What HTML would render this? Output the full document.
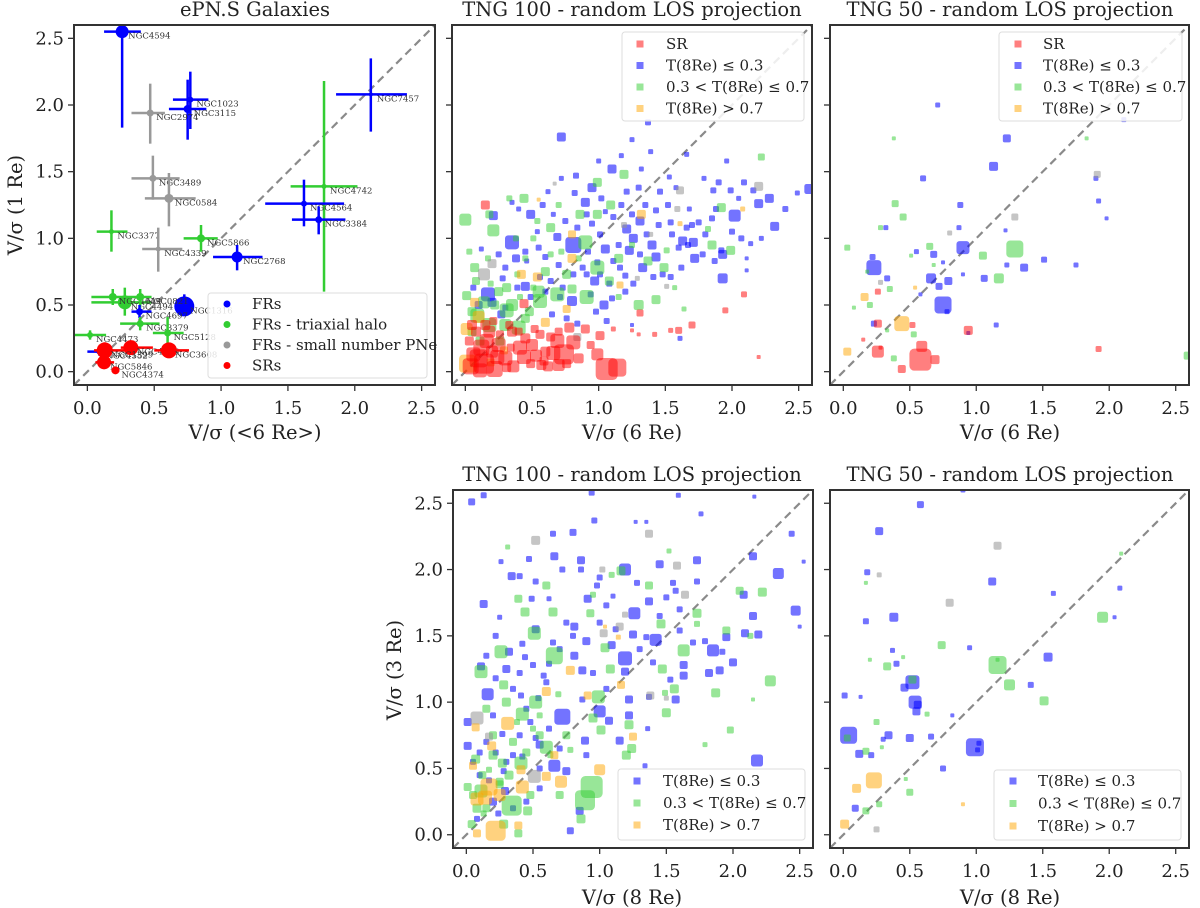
<!DOCTYPE html>
<html><head><meta charset="utf-8"><style>
html,body{margin:0;padding:0;background:#fff;}
svg{display:block;font-family:"DejaVu Serif","Liberation Serif",serif;}
</style></head><body>
<svg id="fig" width="1200" height="908" viewBox="0 0 1200 908" xmlns="http://www.w3.org/2000/svg">
<rect width="1200" height="908" fill="#fff"/>
<g fill="#222" font-size="19.5" text-anchor="middle">
<text x="255" y="16">ePN.S Galaxies</text>
<text x="632" y="16">TNG 100 - random LOS projection</text>
<text x="1010" y="16">TNG 50 - random LOS projection</text>
<text x="632" y="481">TNG 100 - random LOS projection</text>
<text x="1010" y="481">TNG 50 - random LOS projection</text>
<text x="255" y="439">V/σ (&lt;6 Re&gt;)</text>
<text x="632" y="439">V/σ (6 Re)</text>
<text x="1010" y="439">V/σ (6 Re)</text>
<text x="632" y="904">V/σ (8 Re)</text>
<text x="1010" y="904">V/σ (8 Re)</text>
<text transform="translate(22,205) rotate(-90)">V/σ (1 Re)</text>
<text transform="translate(401,670) rotate(-90)">V/σ (3 Re)</text>
</g>
<g id="layer"></g>
</svg>
<script>
// ---------------- data ----------------
const tickVals = [0.0, 0.5, 1.0, 1.5, 2.0, 2.5];
const tickLabels = ["0.0", "0.5", "1.0", "1.5", "2.0", "2.5"];

// ePN.S galaxies
const epnsNames = ["NGC4594","NGC1023","NGC3115","NGC2974","NGC7457","NGC3489","NGC0584","NGC4742","NGC4564","NGC3384","NGC3377","NGC4339","NGC5866","NGC2768","NGC1316","NGC4494","NGC4649","NGC0821","NGC4697","NGC3379","NGC5128","NGC4473","NGC4636","NGC3608","NGC1399","NGC5846","NGC4374","NGC4552"];
const epnsClass = ["FR","FR","FR","PN","FR","PN","PN","TX","FR","FR","TX","PN","TX","FR","FR","TX","TX","TX","FR","TX","TX","TX","SR","SR","SR","SR","SR","FR"];
const epnsX =   [0.26,0.77,0.75,0.47,2.12,0.49,0.61,1.77,1.62,1.73,0.18,0.53,0.85,1.12,0.725,0.28,0.19,0.395,0.39,0.395,0.60,0.02,0.325,0.61,0.13,0.125,0.21,0.09];
const epnsY =   [2.55,2.04,1.97,1.94,2.08,1.45,1.30,1.39,1.26,1.14,1.05,0.92,1.00,0.86,0.49,0.52,0.56,0.56,0.45,0.36,0.29,0.275,0.18,0.16,0.16,0.07,0.01,0.15];
const epnsXlo = [0.125,0.64,0.61,0.33,1.86,0.33,0.43,1.52,1.33,1.53,0.07,0.41,0.72,0.94,0.68,0.03,0.03,0.30,0.33,0.245,0.49,-0.10,0.25,0.50,0.05,0.06,0.18,0.0];
const epnsXhi = [0.40,0.905,0.89,0.58,2.39,0.69,0.81,2.02,1.92,1.93,0.30,0.71,0.975,1.31,0.78,0.48,0.30,0.48,0.48,0.54,0.72,0.14,0.49,0.76,0.28,0.20,0.24,0.16];
const epnsYlo = [1.83,1.82,1.74,1.71,1.80,1.29,1.09,0.60,1.09,1.03,0.90,0.75,0.90,0.76,0.43,0.42,0.50,0.48,0.40,0.31,0.16,0.24,0.14,0.12,0.12,0.04,0.00,0.12];
const epnsYhi = [2.55,2.25,2.19,2.16,2.35,1.62,1.49,2.18,1.44,1.24,1.21,1.08,1.10,0.95,0.58,0.63,0.62,0.62,0.50,0.41,0.41,0.31,0.22,0.20,0.22,0.10,0.03,0.18];
const epnsSize = [13,6,8,7,4,7,9,5,6,7,5,5,8,11,20,14,8,8,7,7,7,6,15,16,16,14,8,6];

// TNG100 top
const t100topBlue = [[0.72,1.76,9],[1.25,1.74,5],[1.37,1.87,6],[1.39,1.65,5],[1.66,1.63,5],[1.96,1.58,5],[0.83,1.47,6],[1.10,1.52,9],[1.32,1.52,5],[0.95,1.38,9],[0.82,1.34,6],[1.21,1.35,6],[1.46,1.35,6],[1.53,1.46,5],[1.79,1.45,5],[1.90,1.42,6],[2.09,1.42,6],[1.86,1.36,6],[1.99,1.36,6],[2.16,1.36,6],[2.28,1.30,9],[2.49,1.34,5],[2.58,1.37,10],[0.21,1.17,9],[0.49,1.18,9],[0.90,1.27,9],[0.91,1.18,6],[1.11,1.16,6],[1.31,1.13,9],[1.43,1.21,6],[1.52,1.25,6],[1.68,1.22,5],[1.88,1.22,6],[2.02,1.17,12],[2.20,1.26,9],[2.40,1.22,6],[2.32,1.09,9],[0.35,0.97,14],[0.81,0.95,16],[0.69,1.01,8],[1.01,1.03,6],[1.21,1.07,9],[1.26,1.00,9],[1.36,1.03,6],[1.54,1.12,6],[1.66,1.08,6],[1.71,0.97,9],[1.80,1.03,6],[1.92,0.91,6],[1.93,0.88,9],[1.93,0.70,10],[1.87,0.83,6],[1.78,0.88,6],[1.67,0.95,6],[1.60,0.93,6],[1.43,0.86,9],[1.31,0.88,6],[1.23,0.91,9],[1.11,0.83,6],[0.99,0.82,6],[1.01,0.73,6],[0.91,0.73,6],[0.81,0.73,6],[0.80,0.53,10],[1.04,0.50,9],[0.94,0.58,6],[0.71,0.56,6],[0.64,0.68,6],[0.56,0.71,6],[0.49,0.56,6],[0.39,0.63,6],[0.17,0.58,14],[0.06,0.63,6],[0.27,0.43,8],[0.84,0.36,6],[1.25,0.35,4],[1.61,0.25,5],[2.11,0.85,4],[2.11,0.76,4],[1.41,0.71,6],[1.54,0.71,6],[1.16,0.78,6],[1.26,0.66,6],[1.06,0.38,6],[0.60,0.86,6],[0.46,0.83,5],[0.30,0.78,6],[0.73,0.63,6],[1.15,0.95,6],[1.70,1.10,6],[2.05,1.30,5],[0.54,1.05,5],[0.28,0.70,6],[0.10,0.50,8],
[0.35,1.27,5],[0.40,1.22,5],[0.58,1.25,6],[0.66,1.18,5],[0.75,1.13,6],[0.84,1.08,6],[0.95,1.11,6],[1.05,1.20,5],[1.17,1.25,6],[1.25,1.18,6],[1.35,1.25,6],[1.45,1.10,6],[1.55,1.03,6],[1.63,0.98,9],[1.75,1.12,6],[1.85,1.15,6],[2.00,1.05,6],[2.07,1.00,6],[2.14,0.96,5],[2.22,1.00,5],[1.72,0.85,9],[1.62,0.78,6],[1.48,0.73,6],[1.33,0.78,9],[1.20,0.72,6],[1.08,0.66,6],[0.97,0.68,9],[0.88,0.78,6],[0.70,0.80,6],[0.55,0.93,6],[0.45,0.90,6],[0.38,0.85,8],[0.25,0.88,6],[0.12,0.92,5],[0.20,0.52,9],[0.30,0.48,6],[0.65,0.43,6],[0.76,0.40,6],[0.98,0.45,6],[1.10,0.55,6],[1.20,0.60,6],[1.05,0.92,9],[0.92,0.90,6],[0.60,0.60,6],[0.45,0.64,9],[1.40,0.95,9],[1.30,1.38,6],[1.02,1.30,6],[0.62,1.35,5],[0.72,1.45,5],[1.17,1.62,5],[1.58,1.38,5],[1.00,1.58,5]];
const t100topGreen = [[0.00,1.14,12],[0.44,1.30,9],[0.21,1.06,12],[0.64,1.08,9],[0.51,1.00,6],[0.90,0.97,14],[0.99,1.42,9],[1.19,1.48,9],[1.09,1.25,9],[0.99,1.18,9],[0.86,1.18,9],[0.54,1.13,6],[2.22,1.61,7],[1.92,1.23,9],[1.82,1.07,6],[1.85,0.95,9],[1.99,0.91,9],[1.51,0.91,6],[1.37,0.83,9],[1.49,0.78,9],[1.30,0.50,10],[1.43,0.54,9],[1.15,0.56,6],[1.15,0.85,9],[0.99,0.78,14],[0.91,0.56,14],[0.69,0.58,14],[0.56,0.53,14],[0.41,0.56,6],[0.31,0.63,9],[0.07,0.78,9],[0.01,0.57,9],[0.09,0.42,14],[0.31,0.46,14],[0.40,0.33,14],[0.26,0.23,9],[0.11,0.23,9],[0.76,0.73,9],[0.64,0.88,6],[0.39,0.73,6],[0.51,0.63,6],[0.19,0.66,6],[1.64,0.47,5],[1.57,0.63,5],[0.17,0.85,6],[0.45,0.40,9],[0.22,0.50,9],[0.05,0.30,9],
[0.08,0.68,8],[0.14,0.52,12],[0.25,0.60,9],[0.35,0.50,12],[0.48,0.45,9],[0.60,0.75,9],[0.72,0.90,6],[0.80,0.62,9],[0.30,0.35,12],[0.18,0.35,14],[0.05,0.45,9],[0.45,0.85,6],[0.55,0.60,12],[0.85,0.85,6],[1.08,0.68,9],[0.38,1.00,6],[0.18,1.18,8],[0.03,0.90,6],[1.25,0.95,6],[0.70,1.25,6],[0.33,1.30,6]];
const t100topGray = [[2.20,1.39,9],[1.61,1.36,8],[1.59,1.22,6],[1.19,1.10,6],[0.67,1.41,4],[0.14,0.73,12],[0.20,0.81,9],[1.51,0.64,5],[1.29,0.70,5],[0.84,0.26,8],[1.39,1.03,5]];
const t100topOrange = [[0.02,0.06,18],[0.01,0.32,12],[0.10,0.41,12],[0.42,0.73,9],[0.54,0.71,9],[0.80,0.85,9],[0.80,1.03,8],[1.32,1.18,9],[1.61,1.11,5],[2.08,1.22,5],[1.16,0.65,7],[0.60,0.37,9],[0.76,0.47,8],[0.07,0.52,9],[0.19,0.07,8],[0.29,0.16,8],[0.55,1.29,4]];
const t100topRed = [[0.15,1.25,9],[1.31,0.44,7],[1.11,0.32,5],[1.25,0.31,4],[1.30,0.28,4],[1.42,0.28,5],[1.54,0.31,5],[1.60,0.31,7],[1.70,0.35,7],[1.95,0.46,6],[2.09,0.58,6],[2.20,0.11,4],[1.06,0.02,22],[1.14,0.03,18],[0.99,0.13,12],[1.01,0.27,9],[0.90,0.32,9],[0.81,0.22,14],[0.74,0.13,20],[0.69,0.23,14],[0.64,0.26,9],[0.56,0.28,9],[0.44,0.51,9],[0.41,0.18,14],[0.44,0.11,14],[0.49,0.06,9],[0.34,0.18,8],[0.24,0.11,14],[0.14,0.06,20],[0.06,0.13,14],[0.03,0.23,9],[0.16,0.23,14],[0.26,0.28,8],[0.11,0.01,14],[0.59,0.08,9],[0.76,0.06,9],[0.31,0.03,9],[0.21,0.38,8],[0.05,0.35,10],[0.20,0.15,12],[0.35,0.30,10],[0.60,0.15,10],
[0.08,0.30,10],[0.12,0.18,16],[0.18,0.30,12],[0.22,0.02,16],[0.30,0.10,14],[0.36,0.04,12],[0.45,0.25,10],[0.50,0.20,12],[0.53,0.12,12],[0.62,0.04,10],[0.66,0.14,14],[0.70,0.30,8],[0.78,0.33,10],[0.85,0.10,10],[0.33,0.35,8],[0.10,0.10,18],[0.04,0.04,16],[0.25,0.20,14],[0.15,0.35,10],[0.40,0.30,8],[0.52,0.32,8],[0.57,0.05,10],[0.70,0.05,12],[0.94,0.20,8]];

// TNG50 top
const t50topBlue = [[0.71,2.00,5],[1.23,1.75,8],[1.13,1.54,9],[0.60,1.45,6],[0.88,1.25,6],[1.90,1.45,5],[1.92,1.28,5],[1.98,1.15,4],[2.11,1.89,5],[0.32,1.08,5],[0.87,1.08,5],[1.22,1.06,4],[0.22,0.86,6],[0.23,0.78,15],[0.55,0.90,5],[0.68,0.88,7],[0.90,0.93,13],[0.75,0.82,4],[1.23,0.80,5],[1.36,0.78,8],[1.51,0.84,6],[1.75,0.80,5],[0.66,0.70,10],[0.79,0.68,8],[0.72,0.64,7],[0.33,0.70,6],[0.90,0.73,4],[1.06,0.70,7],[0.75,0.50,17],[0.78,0.45,5],[0.23,0.36,6],[1.15,0.35,5],[0.94,0.29,4],[0.58,0.58,4]];
const t50topGreen = [[0.38,1.75,4],[1.83,1.75,4],[0.39,1.26,7],[0.45,1.16,7],[0.28,1.08,5],[0.03,0.93,6],[0.65,0.94,7],[0.51,0.87,4],[0.68,0.80,4],[1.05,0.87,8],[1.29,0.92,17],[1.17,0.70,10],[0.35,0.62,6],[0.18,0.75,4],[0.20,0.50,6],[0.08,0.48,4],[0.33,0.31,4],[0.53,0.28,6],[0.38,0.10,6],[2.59,0.12,8]];
const t50topGray = [[1.91,1.48,7],[1.29,1.16,7],[0.80,1.04,5],[0.28,0.67,5]];
const t50topOrange = [[0.16,0.56,8],[0.44,0.36,15],[0.03,0.15,8],[0.54,0.63,4]];
const t50topRed = [[0.26,0.60,6],[0.26,0.36,8],[0.52,0.35,6],[0.94,0.31,9],[0.15,0.24,4],[0.26,0.15,12],[0.59,0.19,11],[0.58,0.09,22],[0.69,0.09,9],[0.44,0.02,8],[1.92,0.17,6],[0.28,0.18,4]];

// TNG100 bottom
const t100botBlue = [[0.04,2.51,7],[0.13,2.56,6],[0.94,2.58,6],[1.59,2.56,5],[2.16,2.55,4],[1.76,2.42,5],[0.96,2.37,6],[2.44,2.27,6],[2.53,2.06,4],[2.34,1.97,11],[2.15,2.10,8],[0.80,2.28,7],[0.65,2.27,6],[0.66,2.10,8],[0.47,2.08,6],[0.26,2.06,5],[0.86,2.07,8],[0.34,1.95,8],[0.52,1.91,6],[0.86,2.00,6],[1.19,2.00,12],[1.00,1.94,6],[1.27,2.36,4],[1.45,2.04,8],[1.73,2.07,8],[1.35,2.36,4],[0.13,1.74,8],[0.25,1.64,5],[0.49,1.78,6],[0.62,1.78,5],[0.91,1.78,8],[1.05,1.73,6],[1.26,1.67,12],[1.37,1.76,8],[1.50,1.79,6],[1.57,1.84,6],[1.73,1.91,6],[2.08,1.81,8],[2.15,1.65,8],[2.47,1.69,10],[2.50,1.57,4],[2.09,1.52,8],[2.19,1.51,8],[1.95,1.49,8],[1.85,1.39,12],[1.92,1.38,6],[1.79,1.46,6],[1.60,1.54,6],[1.42,1.47,12],[1.25,1.51,8],[1.35,1.49,6],[1.09,1.43,8],[0.90,1.46,8],[0.81,1.57,8],[0.52,1.55,8],[0.42,1.44,6],[0.32,1.38,8],[1.19,1.33,14],[1.19,1.23,8],[0.81,1.35,8],[0.87,1.24,8],[0.62,1.29,6],[0.44,1.34,6],[1.63,1.28,8],[1.63,1.20,8],[1.53,1.17,6],[1.82,1.22,8],[1.90,1.24,8],[2.00,1.30,8],[0.11,1.27,8],[0.16,1.06,12],[0.41,1.05,6],[0.54,1.03,6],[0.72,0.89,16],[1.00,0.93,12],[1.22,1.02,8],[1.57,1.02,8],[1.37,1.04,6],[1.22,0.90,8],[0.87,1.02,6],[1.07,0.86,8],[1.15,0.71,8],[0.89,0.71,8],[0.66,0.52,12],[0.52,0.73,6],[0.27,0.76,6],[0.01,0.67,8],[0.01,0.85,8],[2.18,0.56,12],[1.34,0.52,5],[0.85,0.18,8],[0.78,0.03,7],[0.24,0.16,6],[0.17,0.41,6],[0.29,0.33,8],[0.42,0.59,6],[1.36,0.80,5],[0.35,1.10,6],[0.60,1.15,6],[0.70,1.40,6],[0.45,0.95,6],[0.30,0.55,6],[0.10,0.45,6],[0.55,0.35,6],[0.20,0.90,6],[1.00,1.60,6],[0.75,1.60,6],[1.10,1.80,5],
[0.05,0.55,6],[0.10,0.62,6],[0.15,0.70,6],[0.22,0.62,6],[0.28,0.48,6],[0.35,0.60,6],[0.40,0.75,6],[0.48,0.85,6],[0.55,0.68,8],[0.62,0.80,6],[0.70,0.65,6],[0.75,0.48,8],[0.58,1.20,6],[0.50,1.28,6],[0.40,1.22,6],[0.30,1.25,8],[0.22,1.18,6],[0.15,1.35,6],[0.65,1.45,6],[0.80,1.50,6],[0.95,1.22,6],[1.05,1.10,6],[1.12,1.55,6],[1.30,1.40,6],[1.40,1.30,6],[1.45,1.65,6],[1.60,1.70,6],[1.70,1.45,6],[0.35,0.20,6],[0.20,0.25,8],[0.08,0.12,6],[0.45,0.25,6],[0.55,0.50,6],[0.90,0.60,6],[1.28,1.90,6],[0.72,2.00,6],[0.40,1.95,6],[0.98,1.88,6],[1.55,1.90,6],[0.22,1.50,6]];
const t100botGreen = [[0.31,2.17,5],[1.52,2.14,5],[1.16,1.99,9],[1.09,1.96,6],[1.37,1.88,8],[0.60,1.88,8],[0.39,1.78,8],[0.44,1.68,9],[0.65,1.68,9],[0.93,1.67,8],[0.95,1.81,6],[2.05,1.84,8],[2.22,1.83,9],[1.73,1.67,9],[1.73,1.59,6],[1.46,1.59,9],[1.95,1.54,8],[2.13,1.50,6],[0.51,1.52,13],[1.04,1.41,9],[1.63,1.39,12],[1.47,1.25,9],[0.26,1.38,13],[0.66,1.35,17],[0.11,1.23,13],[1.08,1.25,9],[2.28,1.16,11],[1.87,1.07,9],[2.15,1.02,4],[1.56,1.10,9],[1.49,1.07,6],[0.28,1.13,9],[0.52,1.00,13],[0.42,0.91,13],[0.69,1.06,6],[0.99,1.04,13],[0.95,0.88,9],[1.22,0.83,9],[1.50,0.92,9],[1.98,0.79,7],[1.79,0.68,5],[1.01,0.79,9],[0.78,0.64,6],[1.24,0.65,9],[1.20,0.60,9],[0.07,0.57,9],[0.17,0.49,6],[0.27,0.54,9],[0.41,0.54,13],[0.60,0.66,13],[0.63,0.60,6],[0.94,0.36,22],[0.89,0.26,20],[0.86,0.12,9],[0.34,0.22,20],[0.04,0.08,8],[0.13,0.16,6],[0.39,0.01,8],[0.01,0.36,8],[0.46,0.18,9],[0.11,0.33,13],[0.20,0.75,8],[0.35,0.70,8],[0.50,0.80,6],[0.15,0.20,8],[0.25,0.40,8],[0.75,0.75,8],
[0.05,0.30,8],[0.12,0.45,8],[0.20,0.60,9],[0.25,0.38,8],[0.32,0.45,9],[0.45,0.62,8],[0.55,0.75,8],[0.38,0.85,6],[0.15,0.95,8],[0.30,1.00,9],[0.55,0.90,6],[0.08,0.20,9],[0.28,0.08,9],[0.48,0.30,8],[0.70,0.30,8]];
const t100botGray = [[0.52,2.22,9],[1.37,2.27,8],[1.58,2.03,8],[1.64,1.81,8],[1.02,2.00,6],[1.15,1.57,8],[1.03,1.52,8],[1.38,1.05,8],[1.50,1.03,5],[0.08,0.88,13],[0.17,0.74,8],[0.51,0.44,13],[1.19,1.66,6]];
const t100botOrange = [[0.31,0.84,13],[0.07,0.81,8],[0.19,0.67,9],[0.60,1.08,9],[0.78,1.24,9],[0.91,1.05,8],[1.04,1.57,4],[1.14,1.49,5],[1.16,1.13,8],[1.25,0.74,8],[0.66,0.60,8],[0.60,0.44,9],[0.71,0.40,12],[1.00,0.49,11],[0.41,0.49,9],[0.17,0.36,17],[0.08,0.27,13],[0.42,0.36,13],[0.22,0.03,20],[0.39,0.07,8],[0.08,0.01,8],[0.05,0.52,8],[0.14,0.28,14],[0.25,0.30,12]];

// TNG50 bottom
const t50botBlue = [[0.58,2.49,7],[0.27,2.29,8],[0.90,2.60,5],[0.18,1.98,6],[1.12,1.91,8],[1.58,1.82,5],[2.08,1.86,5],[0.17,1.61,6],[0.38,1.64,9],[2.04,1.64,4],[0.37,1.39,5],[0.40,1.29,6],[0.95,1.41,5],[1.54,1.34,9],[0.52,1.15,14],[0.46,1.11,8],[1.41,1.13,6],[0.01,1.05,6],[0.13,1.04,4],[0.54,1.00,13],[0.56,0.98,8],[0.55,0.93,8],[0.82,0.90,4],[0.04,0.75,17],[0.34,0.75,8],[0.30,0.72,5],[0.50,0.73,8],[0.66,0.74,6],[0.12,0.61,8],[0.21,0.60,6],[0.99,0.66,18],[1.02,0.69,5],[1.01,0.64,5],[0.75,0.50,6],[0.09,0.20,7]];
const t50botGreen = [[2.09,2.12,4],[0.17,1.90,4],[1.95,1.64,11],[0.74,1.43,8],[0.20,1.32,4],[0.45,1.34,4],[0.33,1.27,8],[1.16,1.28,18],[1.25,1.13,11],[1.51,1.01,9],[0.52,1.17,8],[0.63,0.91,5],[0.25,0.85,6],[0.03,0.73,7],[0.29,0.66,4],[0.17,0.63,7],[0.47,0.42,4],[0.50,0.32,7],[0.27,0.23,6],[0.17,0.18,7],[1.16,1.32,4]];
const t50botGray = [[1.16,2.18,8],[0.27,1.96,5],[0.80,1.75,8],[0.25,0.04,6]];
const t50botOrange = [[0.23,0.41,16],[0.10,0.35,9],[0.01,0.08,9],[0.90,0.23,4]];

// ---------------- drawing ----------------
const NS = "http://www.w3.org/2000/svg";
const layer = document.getElementById("layer");
const XMIN = -0.1, XMAX = 2.6, YMIN = -0.1, YMAX = 2.6;
const panels = {
  p1: {x: 74, y: 25, w: 361, h: 360, name: "epns"},
  p2: {x: 452, y: 25, w: 360, h: 360, name: "tng100-top"},
  p3: {x: 830, y: 25, w: 359, h: 360, name: "tng50-top"},
  p4: {x: 453, y: 490, w: 360, h: 358, name: "tng100-bottom"},
  p5: {x: 830, y: 490, w: 359, h: 358, name: "tng50-bottom"}
};
function sx(p, v) { return p.x + (v - XMIN) / (XMAX - XMIN) * p.w; }
function sy(p, v) { return p.y + (YMAX - v) / (YMAX - YMIN) * p.h; }
function mk(tag, attrs, parent) {
  const e = document.createElementNS(NS, tag);
  for (const k in attrs) e.setAttribute(k, attrs[k]);
  (parent || layer).appendChild(e);
  return e;
}

function drawAxes(p, showXLabels, showYLabels) {
  const g = mk("g", {});
  
  
  const cp = mk("clipPath", {id: "clip-" + p.name}, g);
  mk("rect", {x: p.x, y: p.y, width: p.w, height: p.h}, cp);
  const diag = mk("line", {x1: sx(p, XMIN), y1: sy(p, YMIN), x2: sx(p, XMAX), y2: sy(p, YMAX), stroke: "#8a8a8a", "stroke-width": 2.2, "stroke-dasharray": "8,5", "clip-path": "url(#clip-" + p.name + ")"}, g);
  
  
  tickVals.forEach((v, i) => {
    const X = sx(p, v), Y = sy(p, v);
    const tx = mk("line", {x1: X, y1: p.y + p.h, x2: X, y2: p.y + p.h + 6, stroke: "#333", "stroke-width": 1.3}, g);
    
    
    const ty = mk("line", {x1: p.x, y1: Y, x2: p.x - 6, y2: Y, stroke: "#333", "stroke-width": 1.3}, g);
    
    
    if (showXLabels) {
      const t = mk("text", {x: X, y: p.y + p.h + 29, "font-size": 18, fill: "#222", "text-anchor": "middle"}, g);
      t.textContent = tickLabels[i];
      
      
    }
    if (showYLabels) {
      const t = mk("text", {x: p.x - 10, y: Y + 6, "font-size": 18, fill: "#222", "text-anchor": "end"}, g);
      t.textContent = tickLabels[i];
      
      
    }
  });
  return g;
}
function drawFrame(p) {
  const f = mk("rect", {x: p.x, y: p.y, width: p.w, height: p.h, fill: "none", stroke: "#333", "stroke-width": 2});
  
  
}
function drawScatter(p, arr, color, seriesName) {
  const g = mk("g", {"clip-path": "url(#clip-" + p.name + ")"});
  
  
  arr.forEach(d => {
    const s = d[2];
    const r = mk("rect", {x: sx(p, d[0]) - s / 2, y: sy(p, d[1]) - s / 2, width: s, height: s, rx: s * 0.22, fill: color}, g);
    
    
  });
}
function drawLegend(box, entries) {
  const g = mk("g", {});
  
  
  mk("rect", {x: box.x, y: box.y, width: box.w, height: box.h, rx: 3, fill: "rgba(255,255,255,0.85)", stroke: "#ddd", "stroke-width": 1}, g);
  entries.forEach((e, i) => {
    const cy = box.y0 + i * box.dy;
    const row = mk("g", {}, g);
    
    
    if (e.circle) mk("circle", {cx: box.mx, cy: cy, r: 3.5, fill: e.color}, row);
    else mk("rect", {x: box.mx - 3.5, y: cy - 3.5, width: 7, height: 7, fill: e.color}, row);
    const t = mk("text", {x: box.tx, y: cy + 5, "font-size": 15, fill: "#222"}, row);
    t.textContent = e.label;
  });
}

const C = {
  blue: "rgba(0,0,255,0.55)", green: "rgba(50,205,50,0.5)", gray: "rgba(150,150,150,0.55)",
  orange: "rgba(255,165,0,0.5)", red: "rgba(255,0,0,0.5)"
};

// Panel 1: ePN.S
(function () {
  const p = panels.p1;
  drawAxes(p, true, true);
  const col = {FR: "#0000ff", TX: "#32cd32", PN: "#999999", SR: "#ff0000"};
  const g = mk("g", {"clip-path": "url(#clip-" + p.name + ")"});
  
  
  const order = epnsNames.map((n, i) => i).sort((a, b) => (epnsClass[a] === "SR") - (epnsClass[b] === "SR"));
  order.forEach(i => {
    const c = col[epnsClass[i]];
    const gg = mk("g", {}, g);
    
    
    mk("line", {x1: sx(p, epnsXlo[i]), y1: sy(p, epnsY[i]), x2: sx(p, epnsXhi[i]), y2: sy(p, epnsY[i]), stroke: c, "stroke-width": 2.5}, gg);
    mk("line", {x1: sx(p, epnsX[i]), y1: sy(p, epnsYlo[i]), x2: sx(p, epnsX[i]), y2: sy(p, epnsYhi[i]), stroke: c, "stroke-width": 2.5}, gg);
    mk("circle", {cx: sx(p, epnsX[i]), cy: sy(p, epnsY[i]), r: epnsSize[i] / 2, fill: c}, gg);
    const t = mk("text", {x: sx(p, epnsX[i]) + 6, y: sy(p, epnsY[i]) + 7, "font-size": 8.5, fill: "#333"}, gg);
    t.textContent = epnsNames[i];
  });
  drawFrame(p);
  drawLegend({x: 208, y: 293, w: 219, h: 85, y0: 304, dy: 20.5, mx: 227, tx: 252}, [
    {label: "FRs", color: "#0000ff", circle: true},
    {label: "FRs - triaxial halo", color: "#32cd32", circle: true},
    {label: "FRs - small number PNe", color: "#999", circle: true},
    {label: "SRs", color: "#ff0000", circle: true}
  ]);
})();

// Panel 2
(function () {
  const p = panels.p2;
  drawAxes(p, true, false);
  drawScatter(p, t100topBlue, C.blue, "tng100-top-blue");
  drawScatter(p, t100topGreen, C.green, "tng100-top-green");
  drawScatter(p, t100topGray, C.gray, "tng100-top-gray");
  drawScatter(p, t100topOrange, C.orange, "tng100-top-orange");
  drawScatter(p, t100topRed, C.red, "tng100-top-red");
  drawFrame(p);
  drawLegend({x: 622, y: 32, w: 182, h: 89, y0: 44, dy: 21.5, mx: 640, tx: 666}, [
    {label: "SR", color: C.red}, {label: "T(8Re)  ≤ 0.3", color: C.blue},
    {label: "0.3 <  T(8Re)  ≤ 0.7", color: C.green}, {label: "T(8Re)  > 0.7", color: C.orange}
  ]);
})();

// Panel 3
(function () {
  const p = panels.p3;
  drawAxes(p, true, false);
  drawScatter(p, t50topBlue, C.blue, "tng50-top-blue");
  drawScatter(p, t50topGreen, C.green, "tng50-top-green");
  drawScatter(p, t50topGray, C.gray, "tng50-top-gray");
  drawScatter(p, t50topOrange, C.orange, "tng50-top-orange");
  drawScatter(p, t50topRed, C.red, "tng50-top-red");
  drawFrame(p);
  drawLegend({x: 999, y: 32, w: 183, h: 89, y0: 44, dy: 21.5, mx: 1018, tx: 1043}, [
    {label: "SR", color: C.red}, {label: "T(8Re)  ≤ 0.3", color: C.blue},
    {label: "0.3 <  T(8Re)  ≤ 0.7", color: C.green}, {label: "T(8Re)  > 0.7", color: C.orange}
  ]);
})();

// Panel 4
(function () {
  const p = panels.p4;
  drawAxes(p, true, true);
  drawScatter(p, t100botBlue, C.blue, "tng100-bottom-blue");
  drawScatter(p, t100botGreen, C.green, "tng100-bottom-green");
  drawScatter(p, t100botGray, C.gray, "tng100-bottom-gray");
  drawScatter(p, t100botOrange, C.orange, "tng100-bottom-orange");
  drawFrame(p);
  drawLegend({x: 618, y: 769, w: 187, h: 71, y0: 781, dy: 22, mx: 637, tx: 663}, [
    {label: "T(8Re)  ≤ 0.3", color: C.blue},
    {label: "0.3 <  T(8Re)  ≤ 0.7", color: C.green}, {label: "T(8Re)  > 0.7", color: C.orange}
  ]);
})();

// Panel 5
(function () {
  const p = panels.p5;
  drawAxes(p, true, false);
  drawScatter(p, t50botBlue, C.blue, "tng50-bottom-blue");
  drawScatter(p, t50botGreen, C.green, "tng50-bottom-green");
  drawScatter(p, t50botGray, C.gray, "tng50-bottom-gray");
  drawScatter(p, t50botOrange, C.orange, "tng50-bottom-orange");
  drawFrame(p);
  drawLegend({x: 994, y: 770, w: 187, h: 70, y0: 781, dy: 22.5, mx: 1013, tx: 1038}, [
    {label: "T(8Re)  ≤ 0.3", color: C.blue},
    {label: "0.3 <  T(8Re)  ≤ 0.7", color: C.green}, {label: "T(8Re)  > 0.7", color: C.orange}
  ]);
})();
</script>
</body></html>
